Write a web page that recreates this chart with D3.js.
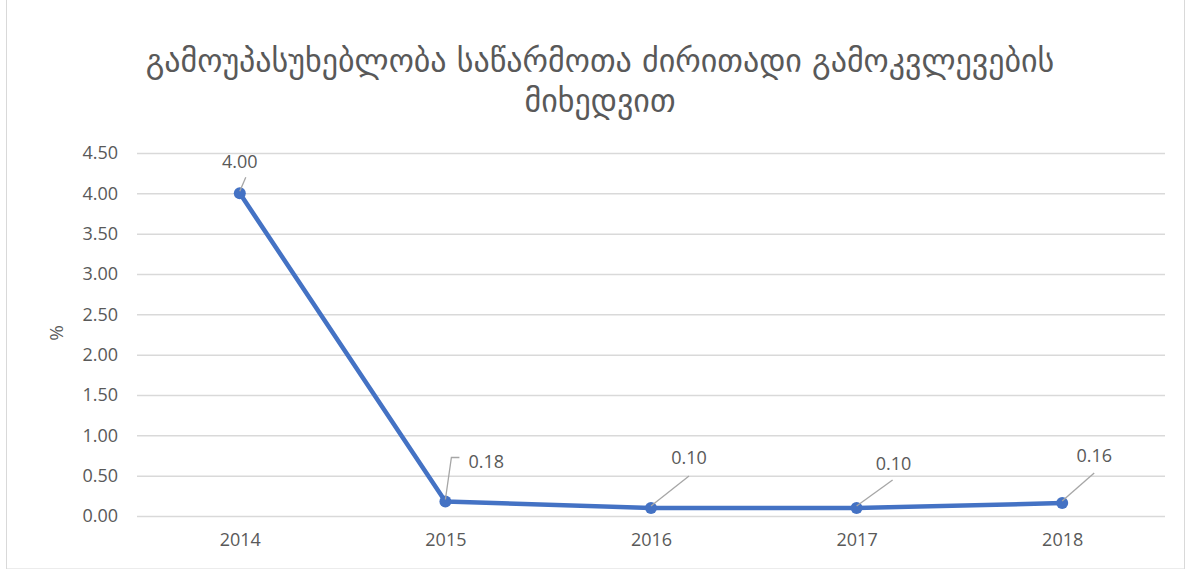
<!DOCTYPE html>
<html><head><meta charset="utf-8">
<script src="https://cdn.jsdelivr.net/npm/d3@7"></script>
<style>body{margin:0;background:#fff;}svg{display:block;}</style>
</head><body>
<script>
const titleLines = ["გამოუპასუხებლობა საწარმოთა ძირითადი გამოკვლევების", "მიხედვით"];
const years = ["2014", "2015", "2016", "2017", "2018"];
const values = [4.00, 0.18, 0.10, 0.10, 0.16];
const yTicks = [0, 0.5, 1, 1.5, 2, 2.5, 3, 3.5, 4, 4.5];
const yLabel = "%";

const W = 1191, H = 569;
const svg = d3.select("body").append("svg").attr("width", W).attr("height", H);
svg.append("rect").attr("x", 6.5).attr("y", -1).attr("width", 1178).attr("height", H + 1)
  .attr("fill", "#fff").attr("stroke", "#d9d9d9").attr("stroke-width", 1);

const x = d3.scalePoint().domain(years).range([137, 1165]).padding(0.5);
const y = d3.scaleLinear().domain([0, 4.5]).range([516, 153]);

const tc = "#595959";
const tf = "'Open Sans','Liberation Sans',sans-serif";

// gridlines
svg.append("g").selectAll("line").data(yTicks).join("line")
  .attr("x1", 137).attr("x2", 1165)
  .attr("y1", d => y(d) + 0.5).attr("y2", d => y(d) + 0.5)
  .attr("stroke", "#d9d9d9").attr("stroke-width", 1.5);

// y axis labels
const ya = svg.append("g").attr("transform", "translate(118,0)")
  .call(d3.axisLeft(y).tickValues(yTicks).tickFormat(d3.format(".2f")).tickSize(0).tickPadding(0));
ya.select(".domain").remove();
ya.selectAll("text").attr("fill", tc).attr("font-size", 18).attr("font-family", tf);

// x axis labels
const xa = svg.append("g").attr("transform", "translate(0,530)")
  .call(d3.axisBottom(x).tickSize(0).tickPadding(0));
xa.select(".domain").remove();
xa.selectAll("text").attr("fill", tc).attr("font-size", 18).attr("font-family", tf).attr("dy", "0.9em");

// y label
svg.append("text").attr("transform", "translate(63,333) rotate(-90)")
  .attr("text-anchor", "middle").attr("fill", tc).attr("font-size", 19).attr("font-family", tf).text(yLabel);

// title
svg.append("g").selectAll("text").data(titleLines).join("text")
  .attr("x", 600).attr("y", (d, i) => 72 + i * 40)
  .attr("text-anchor", "middle").attr("fill", tc).attr("font-size", 32)
  .attr("font-family", "'DejaVu Sans',sans-serif").text(d => d);

// line
const pts = years.map((yr, i) => ({yr, v: values[i]}));
svg.append("path").datum(pts)
  .attr("d", d3.line().x(d => x(d.yr)).y(d => y(d.v)))
  .attr("fill", "none").attr("stroke", "#4472C4").attr("stroke-width", 4.5).attr("stroke-linejoin", "round");
svg.append("g").selectAll("circle").data(pts).join("circle")
  .attr("cx", d => x(d.yr)).attr("cy", d => y(d.v)).attr("r", 6)
  .attr("fill", "#4472C4");

// data labels with leader lines (offsets relative to point)
const lbl = [
  {dx: 0, dy: -32, leader: [[0, -2], [6, -16]], anchor: "middle"},
  {dx: 23, dy: -40, leader: [[0, -2], [6, -44], [14, -44]], anchor: "start"},
  {dx: 38, dy: -50, leader: [[0, -2], [38, -32]], anchor: "middle"},
  {dx: 37, dy: -44, leader: [[0, -2], [36, -28]], anchor: "middle"},
  {dx: 32, dy: -47, leader: [[0, -2], [32, -30]], anchor: "middle"}
];
const lg = svg.append("g");
pts.forEach((p, i) => {
  const px = x(p.yr), py = y(p.v), L = lbl[i];
  lg.append("path").attr("d", d3.line()(L.leader.map(q => [px + q[0], py + q[1]])))
    .attr("fill", "none").attr("stroke", "#a6a6a6").attr("stroke-width", 1.3);
  lg.append("text").attr("x", px + L.dx).attr("y", py + L.dy).attr("dy", "0.35em")
    .attr("text-anchor", L.anchor).attr("fill", tc).attr("font-size", 18).attr("font-family", tf)
    .text(d3.format(".2f")(p.v));
});
</script>
</body></html>
